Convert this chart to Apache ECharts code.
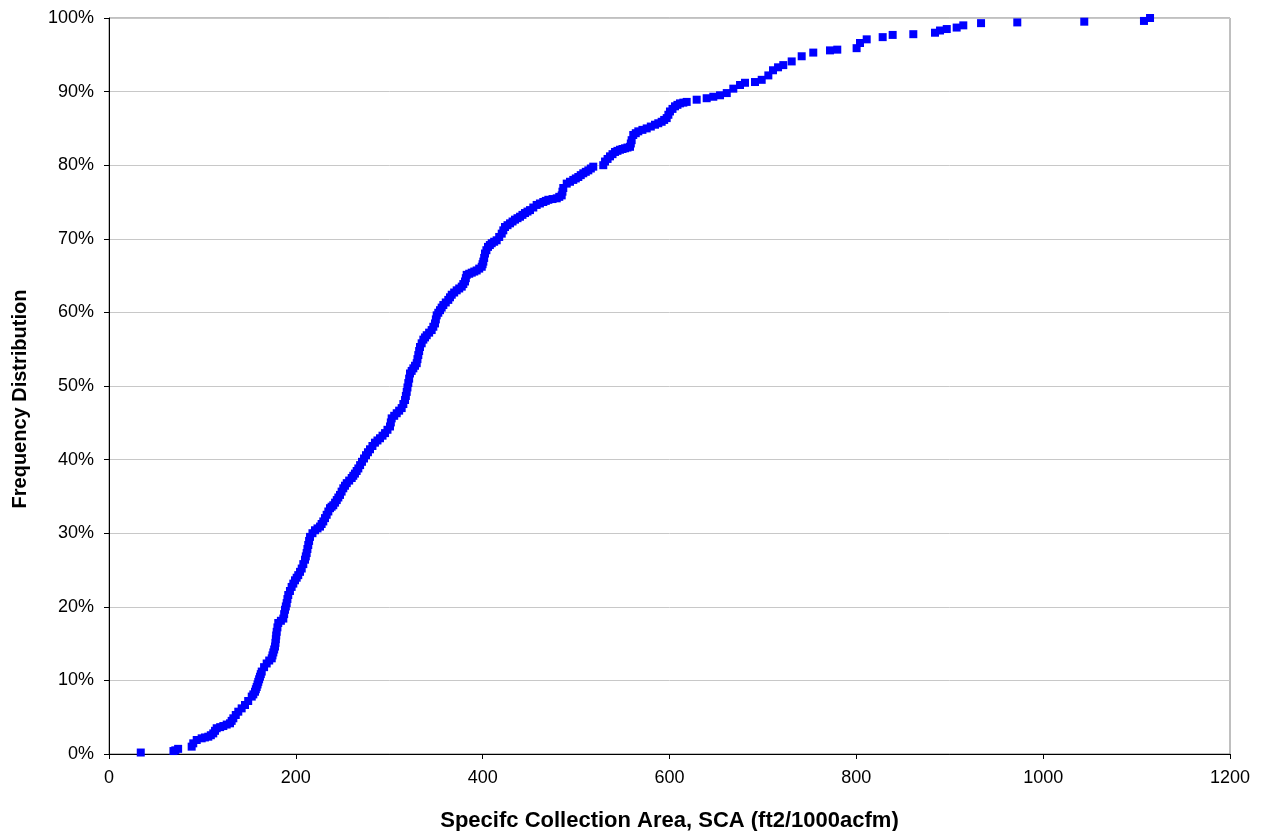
<!DOCTYPE html>
<html>
<head>
<meta charset="utf-8">
<script src="https://cdn.jsdelivr.net/npm/echarts@6/dist/echarts.min.js"></script>
<style>
  html, body { margin: 0; padding: 0; background: #ffffff; }
  #chart { width: 1263px; height: 831px; }
</style>
</head>
<body>
<div id="chart"></div>
<script>
// Specific collection area (ft2/1000acfm) of each unit, sorted ascending
const sca = [
  34, 69, 71, 74, 88.5, 90.2, 93.9, 99.2, 102.7, 106.3,
  109, 111.6, 113.5, 115.3, 119, 122.4, 126, 129.5, 131.3, 133.1,
  135.7, 138.4, 142, 145.6, 149, 152.8, 154.5, 156.3, 157.2, 158.1,
  159, 159.8, 160.7, 161.6, 162.5, 163.5, 166, 168.8, 171.5, 174.2,
  175, 175.9, 176.8, 177.7, 178.2, 178.6, 179, 179.5, 180.3, 181.2,
  184, 186.6, 187.5, 188.4, 189.3, 190.2, 191, 191.9, 193.7, 195.5,
  197.3, 199.1, 200.9, 202.6, 204.5, 206.3, 208, 209.8, 210.7, 211.6,
  212.4, 213.3, 214.2, 215.2, 217.8, 220.5, 223.2, 225.9, 227.6, 229.4,
  231.2, 233.0, 234.8, 236.6, 238.3, 240.1, 242, 243.8, 245.5, 247.3,
  249, 250.8, 252.6, 254.5, 257.1, 259.8, 261.5, 263.3, 265.1, 266.9,
  268.8, 270.8, 273, 275.1, 277.2, 279.4, 282, 284.7, 287.4, 290.1,
  292.8, 295.5, 298.1, 300.8, 301.7, 302.6, 305.3, 308.0, 310.6, 313.3,
  315.1, 316.9, 317.8, 318.7, 319.5, 320.4, 321.3, 322.2, 324, 325.8,
  327.6, 329.4, 330.2, 331.1, 332, 332.9, 334.7, 336.5, 338.3, 340.1,
  342.7, 345.4, 347.2, 349.0, 349.9, 350.8, 352.5, 354.3, 356.1, 357.9,
  360.5, 363.2, 365, 366.9, 369.5, 372.2, 374.9, 377.6, 379.3, 381.1,
  382, 382.9, 385.6, 388.3, 391, 393.6, 396.3, 399.0, 399.9, 400.7,
  401.6, 402.5, 404, 405.7, 407.7, 409.7, 412.3, 415.0, 417.7, 420.4,
  422.1, 423.9, 426.6, 429.3, 432, 434.6, 437.3, 440.0, 442.6, 445.3,
  448, 450.7, 454.2, 457.8, 461.3, 464.9, 467.6, 470.3, 474.8, 479.3,
  482, 484.6, 485.4, 486.3, 490.0, 493.5, 497.0, 499.7, 502.4, 505,
  507.7, 510.4, 513.1, 515.8, 518.4, 529.1, 531.0, 533.7, 536.3, 539,
  541.7, 544.3, 547.0, 549.7, 552.4, 555, 557.7, 558.6, 559.5, 561.2,
  563.9, 566.6, 571, 575.6, 580, 584.5, 588, 591.6, 594.3, 597.0,
  598.8, 600.5, 603.2, 605.9, 608.5, 611.2, 614.8, 618.4, 629.1, 639.8,
  646.9, 654.1, 661.3, 668.3, 675.5, 680.8, 691.5, 698.7, 705.8, 710.8,
  716.2, 721.8, 730.8, 741.5, 753.9, 771.8, 779.6, 800.3, 803.9, 811.1,
  828.2, 838.9, 861.0, 884.2, 889.6, 896.8, 907.4, 914.5, 933.5, 972.3,
  1044.0, 1107.9, 1114.4
];

// Cumulative share of units at or below each SCA (%)
const cumulativePct = [
  0.2, 0.4, 0.5, 0.7, 1.0, 1.45, 1.9, 2.13, 2.25, 2.35,
  2.55, 2.8, 3.15, 3.5, 3.65, 3.8, 4.0, 4.17, 4.5, 4.85,
  5.3, 5.75, 6.2, 6.66, 7.2, 7.8, 8.1, 8.46, 8.8, 9.1,
  9.45, 9.8, 10.15, 10.5, 10.85, 11.2, 11.8, 12.3, 12.7, 13.0,
  13.4, 13.8, 14.2, 14.6, 15.1, 15.6, 16.1, 16.6, 17.2, 17.8,
  18.1, 18.4, 19.0, 19.6, 20.05, 20.5, 21.05, 21.6, 22.15, 22.7,
  23.15, 23.6, 23.95, 24.3, 24.75, 25.2, 25.8, 26.4, 26.85, 27.3,
  27.85, 28.4, 28.95, 29.5, 30.0, 30.4, 30.65, 30.9, 31.25, 31.6,
  32.05, 32.5, 32.95, 33.4, 33.6, 33.8, 34.15, 34.5, 34.85, 35.2,
  35.65, 36.1, 36.45, 36.8, 37.15, 37.5, 37.8, 38.1, 38.45, 38.8,
  39.25, 39.7, 40.15, 40.6, 41.0, 41.4, 41.85, 42.3, 42.6, 42.9,
  43.25, 43.6, 44.05, 44.5, 45.05, 45.6, 45.95, 46.3, 46.65, 47.0,
  47.55, 48.1, 48.65, 49.2, 49.8, 50.4, 51.0, 51.7, 52.05, 52.4,
  52.75, 53.1, 53.65, 54.2, 54.75, 55.3, 55.8, 56.3, 56.6, 56.9,
  57.25, 57.6, 58.05, 58.5, 59.05, 59.6, 59.95, 60.3, 60.65, 61.0,
  61.35, 61.7, 62.05, 62.4, 62.7, 63.0, 63.25, 63.5, 63.85, 64.2,
  64.65, 65.1, 65.25, 65.4, 65.55, 65.7, 65.95, 66.2, 66.55, 66.9,
  67.4, 68.0, 68.45, 68.9, 69.15, 69.4, 69.6, 69.8, 70.25, 70.7,
  71.15, 71.6, 71.85, 72.1, 72.35, 72.6, 72.8, 73.0, 73.25, 73.5,
  73.7, 73.9, 74.25, 74.6, 74.8, 75.0, 75.15, 75.3, 75.4, 75.5,
  75.7, 75.9, 76.4, 76.9, 77.5, 77.75, 78.0, 78.2, 78.4, 78.65,
  78.9, 79.1, 79.3, 79.55, 79.8, 80.0, 80.5, 80.85, 81.2, 81.5,
  81.8, 81.95, 82.1, 82.2, 82.3, 82.4, 82.5, 82.95, 83.4, 84.1,
  84.35, 84.6, 84.8, 85.0, 85.25, 85.5, 85.7, 85.9, 86.15, 86.4,
  86.85, 87.3, 87.65, 88.0, 88.2, 88.4, 88.5, 88.6, 88.9, 89.1,
  89.3, 89.5, 89.8, 90.4, 90.9, 91.2, 91.3, 91.6, 92.2, 92.9,
  93.3, 93.6, 94.1, 94.8, 95.3, 95.6, 95.7, 95.9, 96.6, 97.1,
  97.4, 97.7, 97.8, 98.0, 98.3, 98.5, 98.7, 99.0, 99.3, 99.4,
  99.5, 99.6, 100.0
];

const xTicks = { min: 0, max: 1200, step: 200 };
const yTicks = { min: 0, max: 100, step: 10 };

const points = sca.map((v, i) => [v, cumulativePct[i]]);

const chart = echarts.init(document.getElementById('chart'), null, { renderer: 'canvas' });

const font = "Arial, 'Liberation Sans', sans-serif";

chart.setOption({
  animation: false,
  backgroundColor: '#ffffff',
  grid: {
    left: 109, right: 33, top: 18, bottom: 77,
    containLabel: false, outerBoundsMode: 'none',
    show: true, borderColor: '#808080', borderWidth: 1, backgroundColor: 'transparent'
  },
  xAxis: {
    type: 'value',
    min: xTicks.min, max: xTicks.max, interval: xTicks.step,
    name: 'Specifc Collection Area, SCA (ft2/1000acfm)',
    nameLocation: 'middle', nameGap: 56,
    nameTextStyle: { fontFamily: font, fontSize: 22, fontWeight: 'bold', color: '#000' },
    axisLine: { show: true, onZero: false, lineStyle: { color: '#000', width: 1 } },
    axisTick: { show: true, inside: false, length: 5, lineStyle: { color: '#000' } },
    axisLabel: { fontFamily: font, fontSize: 18, color: '#000', margin: 15,
                 formatter: v => String(v) },
    splitLine: { show: false }
  },
  yAxis: {
    type: 'value',
    min: yTicks.min, max: yTicks.max, interval: yTicks.step,
    name: 'Frequency Distribution',
    nameLocation: 'middle', nameGap: 79,
    nameTextStyle: { fontFamily: font, fontSize: 20, fontWeight: 'bold', color: '#000',
                     padding: [0, 26, 0, 0] },
    axisLine: { show: true, onZero: false, lineStyle: { color: '#000', width: 1 } },
    axisTick: { show: true, inside: false, length: 5, lineStyle: { color: '#000' } },
    axisLabel: { fontFamily: font, fontSize: 18, color: '#000', margin: 15, formatter: '{value}%' },
    splitLine: { show: true, lineStyle: { color: '#c8c8c8', width: 1 } }
  },
  series: [{
    type: 'scatter',
    data: points,
    symbol: 'rect',
    symbolSize: 8,
    itemStyle: { color: '#0000ff', opacity: 1 },
    emphasis: { disabled: true },
    clip: false
  }]
});
</script>
</body>
</html>
